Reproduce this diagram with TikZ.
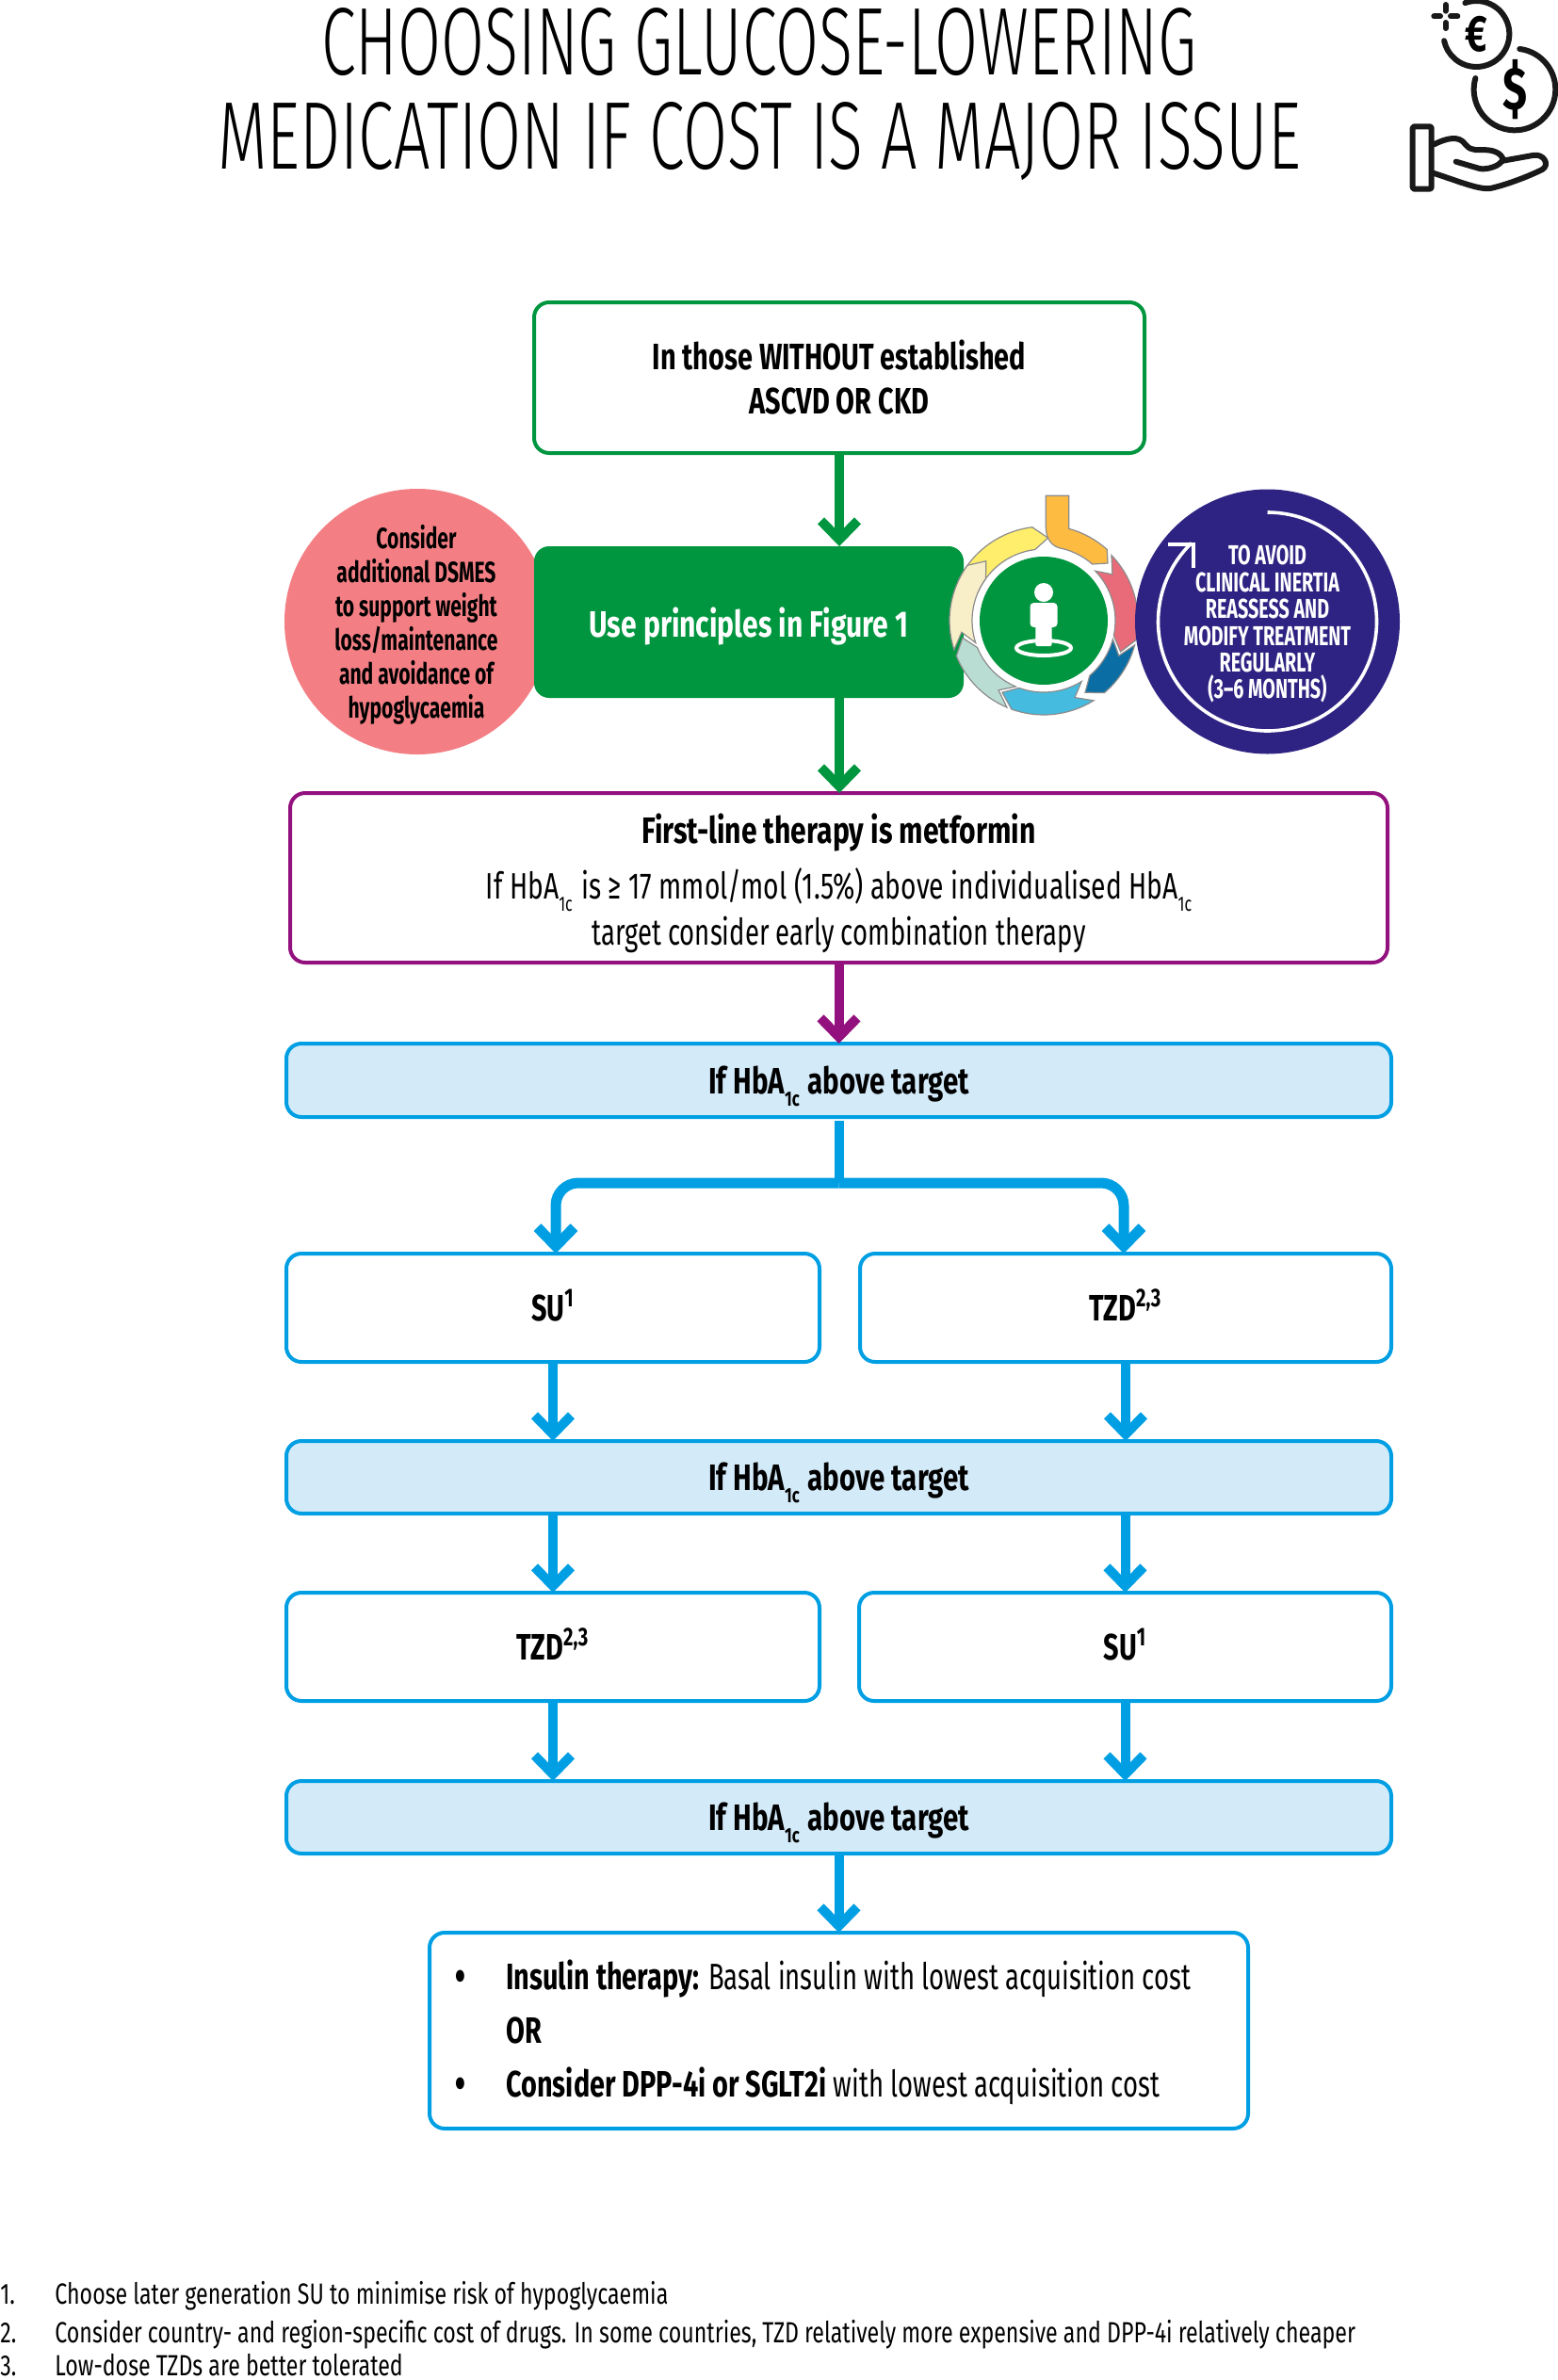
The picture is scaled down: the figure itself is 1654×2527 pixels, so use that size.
\documentclass[tikz,border=0pt]{standalone}
\usepackage{fontspec}
\usetikzlibrary{arrows.meta,calc}
\setmainfont[FakeStretch=0.705,BoldFeatures={FakeStretch=0.74}]{Fira Sans}
\newfontfamily\titlefont[FakeStretch=0.668]{Fira Sans Light}
\newfontfamily\titletopfont[FakeStretch=0.652]{Fira Sans Light}
\newfontfamily\narrowfont[FakeStretch=0.68]{Fira Sans}
\newfontfamily\notefont[FakeStretch=0.748]{Fira Sans}
\newfontfamily\widefont[FakeStretch=0.772]{Fira Sans}
\newfontfamily\abovefont[FakeStretch=0.757]{Fira Sans}
\newfontfamily\ruleline[FakeStretch=0.724]{Fira Sans}
\definecolor{cgreen}{HTML}{00963F}
\definecolor{cpurple}{HTML}{93117E}
\definecolor{cblue}{HTML}{009FE3}
\definecolor{clight}{HTML}{D3EAF9}
\definecolor{cnavy}{HTML}{2E2382}
\definecolor{cpink}{HTML}{F37F85}
\definecolor{cgrey}{HTML}{8C8C8C}
\definecolor{ringyellow}{HTML}{FFEE6B}
\definecolor{ringorange}{HTML}{FDBB42}
\definecolor{ringred}{HTML}{E96A78}
\definecolor{ringdark}{HTML}{0A6EA5}
\definecolor{ringlight}{HTML}{45BBDF}
\definecolor{ringpale}{HTML}{B9DDD3}
\definecolor{ringcream}{HTML}{F8EFC8}
\newcommand{\lowsub}[1]{\smash{\raisebox{-6.5pt}{\fontsize{11}{11}\selectfont #1}}\hspace{1pt}}
\newcommand{\midline}[2][7]{\smash{\raisebox{-#1pt}{#2}}}
\newcommand{\bigbullet}{\llap{\raisebox{-2.5pt}{\fontsize{28}{28}\selectfont•}\hspace{21pt}}}
\newcommand{\ringseg}[3]{\filldraw[cgrey,line width=0.6pt,fill=#3] (#1:100) arc[start angle=#1,end angle=#2,radius=100] -- (#2-10:88) -- (#2:76) arc[start angle=#2,end angle=#1,radius=76] -- (#1-10:88) -- cycle;}
\tikzset{
  flowbox/.style={rectangle,rounded corners=8pt,line width=2pt,inner sep=0pt,outer sep=0pt,align=center,font=\fontsize{19.5}{23.5}\selectfont\bfseries},
  greenbox/.style={flowbox,draw=cgreen,fill=white},
  purplebox/.style={flowbox,draw=cpurple,fill=white},
  whitebox/.style={flowbox,draw=cblue,fill=white},
  lightbox/.style={flowbox,draw=cblue,fill=clight},
  flow/.style={line width=5pt,-{Straight Barb[length=10pt,width=19.5pt]}},
  note/.style={anchor=base west,inner sep=0pt,font=\notefont\fontsize{15.5}{18}\selectfont},
  iconline/.style={line width=3pt,line cap=round,line join=round,black!90}
}
\begin{document}
\begin{tikzpicture}[x=0.5pt,y=-0.5pt]
\useasboundingbox (0,0) rectangle (1654,2527);
\fill[white] (0,0) rectangle (1654,2527);
% title
\node[inner sep=0pt,align=center,font=\titlefont\fontsize{51}{50}\selectfont] (title) at (806,100) {{\titletopfont CHOOSING GLUCOSE-LOWERING}\\MEDICATION IF COST IS A MAJOR ISSUE};
% coins and hand icon
\begin{scope}[shift={(1454,0)},scale=0.3333]
  \draw[iconline,shift={(340,108)}] (-110:105) arc[start angle=-110,end angle=168,radius=105];
  \draw[iconline,shift={(462,285)}] (-83:130) arc[start angle=-83,end angle=196,radius=130];
  \draw[iconline] (205,52) -- (225,52) (258,52) -- (280,52) (242,15) -- (242,35) (242,72) -- (242,90);
  \node[inner sep=0pt,font=\fontsize{27}{27}\selectfont\bfseries] (euro) at (340,108) {€};
  \node[inner sep=0pt,font=\fontsize{32}{32}\selectfont\bfseries] (dollar) at (462,285) {\$};
  \draw[iconline,rounded corners=1pt] (137,403) rectangle (197,602);
  \draw[iconline] (205,460) .. controls (245,440) and (285,430) .. (305,460) .. controls (325,485) and (345,475) .. (375,478) .. controls (405,480) and (425,495) .. (425,512) -- (520,495) .. controls (555,488) and (575,525) .. (550,540) .. controls (500,565) and (430,590) .. (385,600) .. controls (350,605) and (290,580) .. (205,552);
  \draw[iconline] (275,515) -- (350,537) .. controls (370,542) and (420,530) .. (425,505);
\end{scope}
% top flow
\node[greenbox,minimum width=324pt,minimum height=80pt] (start) at (891,401) {In those WITHOUT established\\ASCVD OR CKD};
\node[circle,fill=cpink,minimum size=141pt,inner sep=0pt,outer sep=0pt] (dsmes) at (443,660) {};
\node[inner sep=0pt,align=center,font=\narrowfont\fontsize{15.5}{18}\selectfont\bfseries] (dsmestext) at (442,663) {Consider\\additional DSMES\\to support weight\\loss/maintenance\\and avoidance of\\hypoglycaemia};
\node[flowbox,draw=none,fill=cgreen,text=white,minimum width=228pt,minimum height=80.5pt] (principles) at (795,660.5) {\midline[8]{\widefont\bfseries Use principles in Figure 1}};
% cycle icon
\begin{scope}[shift={(1108,659)},yscale=-1]
  \ringseg{155}{97}{ringyellow}
  \filldraw[cgrey,line width=0.6pt,fill=ringorange] (2.3,132.7) -- (26.7,132.7) -- (26.7,97.7) arc[start angle=74.7,end angle=48,radius=100] -- (68,61) -- (51.7,60) arc[start angle=49,end angle=76,radius=76] .. controls (8,78) and (2.3,88) .. (2.3,99) -- cycle;
  \ringseg{44}{-12}{ringred}
  \ringseg{-15}{-50}{ringdark}
  \ringseg{-58}{-110}{ringlight}
  \ringseg{-113}{-158}{ringpale}
  \ringseg{-162}{-216}{ringcream}
  \fill[cgreen] (0,0) circle[radius=68];
  \fill[white] (0,30) circle[radius=10];
  \draw[white,line width=2pt] (0,-29) ellipse[x radius=29,y radius=8];
  \fill[white,rounded corners=2pt] (-14.5,19) rectangle (14.5,-7);
  \fill[white,rounded corners=1pt] (-8.7,-5) rectangle (8.7,-27);
\end{scope}
\node[circle,fill=cnavy,minimum size=140.5pt,inner sep=0pt,outer sep=0pt] (inertia) at (1345.5,660) {};
\node[inner sep=0pt,align=center,text=white,font=\narrowfont\fontsize{14.5}{14.2}\selectfont\bfseries] (inertiatext) at (1345.5,663) {TO AVOID\\CLINICAL INERTIA\\REASSESS AND\\MODIFY TREATMENT\\REGULARLY\\(3–6 MONTHS)};
\begin{scope}[shift={(1345.5,660)},yscale=-1]
  \draw[white,line width=1.8pt] (90:116) arc[start angle=90,end angle=-226,radius=116];
  \draw[white,line width=2pt,miter limit=4] (-105.7,81.7) -- (-79,81.7) -- (-79,56.7);
\end{scope}
% main boxes
\node[purplebox,minimum width=582.5pt,minimum height=90pt] (first) at (890.5,932) {};
\node[inner sep=0pt,align=center,font=\fontsize{19.5}{24.5}\selectfont] (firsttext) at (890.5,938) {{\widefont\bfseries First-line therapy is metformin}\\[5pt]{\ruleline If HbA\lowsub{1c} is ≥ 17 mmol/mol (1.5\%) above individualised HbA\lowsub{1c}}\\target consider early combination therapy};
\node[lightbox,minimum width=586.5pt,minimum height=39pt] (above1) at (890.5,1147) {\midline{\abovefont\bfseries If HbA\lowsub{1c} above target}};
\node[whitebox,minimum width=283pt,minimum height=57.5pt] (su1) at (587,1388.5) {\midline{SU\textsuperscript{1}}};
\node[whitebox,minimum width=282pt,minimum height=57.5pt] (tzd1) at (1195,1388.5) {\midline{TZD\textsuperscript{2,3}}};
\node[lightbox,minimum width=586.5pt,minimum height=38.5pt] (above2) at (890.5,1568.5) {\midline{\abovefont\bfseries If HbA\lowsub{1c} above target}};
\node[whitebox,minimum width=283pt,minimum height=57.5pt] (tzd2) at (587,1748.5) {\midline{TZD\textsuperscript{2,3}}};
\node[whitebox,minimum width=282.5pt,minimum height=57.5pt] (su2) at (1194.5,1748.5) {\midline{SU\textsuperscript{1}}};
\node[lightbox,minimum width=586.5pt,minimum height=38.5pt] (above3) at (890.5,1929.5) {\midline{\abovefont\bfseries If HbA\lowsub{1c} above target}};
\node[whitebox,minimum width=434.5pt,minimum height=104pt] (final) at (890.5,2156) {};
\node[anchor=west,inner sep=0pt,align=left,font=\fontsize{19.5}{28.5}\selectfont] (finaltext) at (537,2158) {\bigbullet\textbf{Insulin therapy:} Basal insulin with lowest acquisition cost\\\textbf{OR}\\\bigbullet\textbf{Consider DPP-4i or SGLT2i} with lowest acquisition cost};
% connectors
\coordinate (junction) at (above1.south |- 0,1256);
\coordinate (leftdrop) at (590,1331);
\coordinate (rightdrop) at (1193,1331);
\draw[flow,draw=cgreen] (start.south) -- (principles.north -| start.south);
\draw[flow,draw=cgreen] (principles.south -| start.south) -- (first.north -| start.south);
\draw[flow,draw=cpurple] (first.south) -- (above1.north);
\draw[line width=5pt,draw=cblue] (above1.south) ++(0,4) -- (junction);
\draw[flow,draw=cblue,line width=5.5pt,rounded corners=12pt] (junction) -| (leftdrop);
\draw[flow,draw=cblue,line width=5.5pt,rounded corners=12pt] (junction) -| (rightdrop);
\draw[flow,draw=cblue] (su1.south) -- (su1.south |- above2.north);
\draw[flow,draw=cblue] (tzd1.south) -- (tzd1.south |- above2.north);
\draw[flow,draw=cblue] (tzd2.north |- above2.south) -- (tzd2.north);
\draw[flow,draw=cblue] (su2.north |- above2.south) -- (su2.north);
\draw[flow,draw=cblue] (tzd2.south) -- (tzd2.south |- above3.north);
\draw[flow,draw=cblue] (su2.south) -- (su2.south |- above3.north);
\draw[flow,draw=cblue] (above3.south) -- (final.north);
% footnotes
\node[note] (n1) at (0,2446) {1.};
\node[note] (t1) at (58,2446) {Choose later generation SU to minimise risk of hypoglycaemia};
\node[note] (n2) at (0,2487) {2.};
\node[note] (t2) at (58,2487) {Consider country- and region-specific cost of drugs. In some countries, TZD relatively more expensive and DPP-4i relatively cheaper};
\node[note] (n3) at (0,2522) {3.};
\node[note] (t3) at (58,2522) {Low-dose TZDs are better tolerated};
\end{tikzpicture}
\end{document}
